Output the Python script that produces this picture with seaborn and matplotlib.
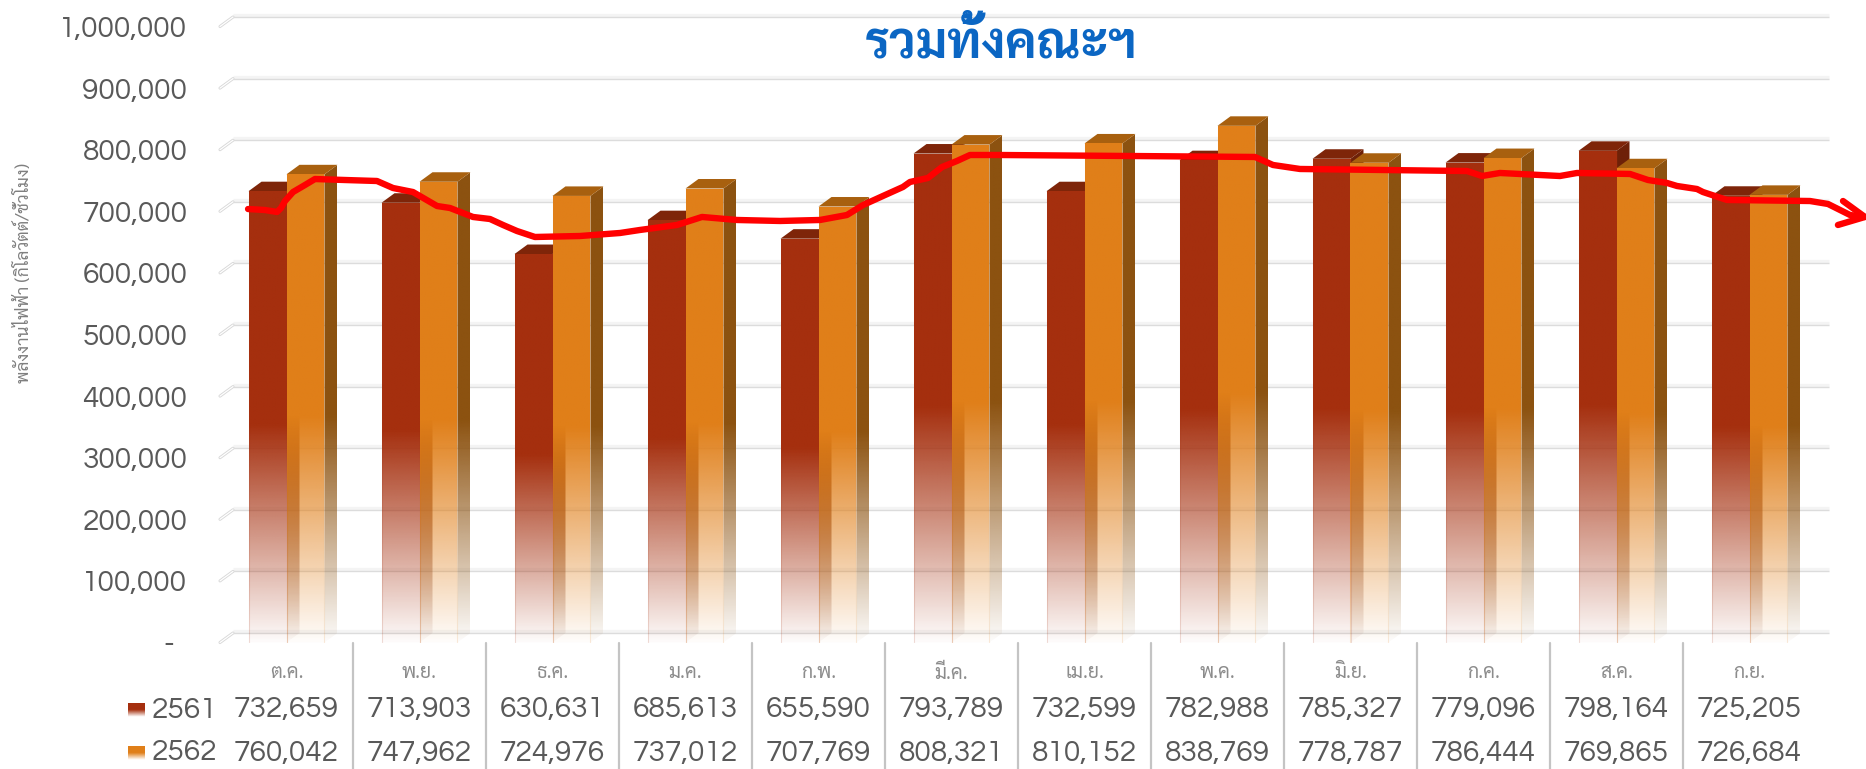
import numpy as np
import pandas as pd
import matplotlib
matplotlib.use("Agg")
from matplotlib import pyplot as plt
from matplotlib import font_manager as fm
from matplotlib.colors import to_rgb, to_rgba
from matplotlib.patches import Polygon
import seaborn as sns

months = ['ต.ค.', 'พ.ย.', 'ธ.ค.', 'ม.ค.', 'ก.พ.', 'มี.ค.', 'เม.ย.', 'พ.ค.', 'มิ.ย.', 'ก.ค.', 'ส.ค.', 'ก.ย.']
values_2561 = [732659, 713903, 630631, 685613, 655590, 793789, 732599, 782988, 785327, 779096, 798164, 725205]
values_2562 = [760042, 747962, 724976, 737012, 707769, 808321, 810152, 838769, 778787, 786444, 769865, 726684]
y_ticks = [0, 100000, 200000, 300000, 400000, 500000, 600000, 700000, 800000, 900000, 1000000]

# hand drawn red line on top of the chart
trend_x = [-0.289, -0.162, -0.071, -0.041, -0.011, 0.049, 0.139, 0.214, 0.440, 0.680, 0.801, 0.951, 1.132, 1.229,
           1.402, 1.530, 1.628, 1.733, 1.868, 2.207, 2.508, 2.658, 2.936, 3.124, 3.387, 3.711, 4.011, 4.214, 4.335,
           4.485, 4.635, 4.688, 4.823, 4.929, 5.041, 5.139, 5.365, 7.282, 7.417, 7.620, 8.876, 8.989, 9.124, 9.575,
           9.703, 10.102, 10.237, 10.380, 10.455, 10.605, 10.650, 10.831, 11.455, 11.590, 11.756, 11.868]
trend_y = [703700, 702100, 698900, 705400, 716700, 731300, 742700, 752400, 750800, 749200, 737800, 731300, 708600, 705400,
           690800, 687500, 677800, 668000, 658300, 659900, 664800, 669700, 677800, 690800, 685900, 684300, 685900, 694000, 710200,
           724900, 739500, 747600, 754100, 771900, 781700, 791400, 791400, 788200, 775200, 768700, 765400, 757300, 762200, 757300,
           762200, 760600, 750800, 746000, 741100, 736200, 731300, 718400, 716700, 711900, 694000, 690800]
arrow_x = [11.703, 11.868, 11.665]
arrow_y = [716700, 690800, 677800]

WIDTH, HEIGHT = 1866, 769
LEFT, RIGHT, TOP, BOTTOM = 220, 1816, 26.5, 642.5

RED, RED_TOP, RED_SIDE = '#A52F0E', '#7E2509', '#6E2108'
ORANGE, ORANGE_TOP, ORANGE_SIDE = '#E07F19', '#A8600F', '#8C5210'
TEXT = '#595959'
NUM_SIZE = 21.5


def pick(*names):
    have = set(f.name for f in fm.fontManager.ttflist)
    for n in names:
        if n in have:
            return n
    return 'DejaVu Sans'


latin_font = pick('Questrial', 'Didact Gothic', 'Lato')
thai_font = pick('Sarabun', 'Noto Sans Thai', 'Kanit', 'Prompt')

sns.set_theme(style="white")
plt.rcParams['font.family'] = [latin_font, 'DejaVu Sans']

fig = plt.figure(figsize=(WIDTH / 100, HEIGHT / 100), dpi=100)
ax = fig.add_axes([LEFT / WIDTH, 1 - BOTTOM / HEIGHT, (RIGHT - LEFT) / WIDTH, (BOTTOM - TOP) / HEIGHT])

df = pd.DataFrame({
    'month': months * 2,
    'year': ['2561'] * 12 + ['2562'] * 12,
    'value': values_2561 + values_2562,
})
sns.barplot(data=df, x='month', y='value', hue='year', order=months, hue_order=['2561', '2562'],
            palette=[RED, ORANGE], width=0.571, gap=0, saturation=1, legend=False, ax=ax, zorder=5)

xlim = (-0.5, 11.5)
ylim = (0, 1000000)
px_x = (xlim[1] - xlim[0]) / (RIGHT - LEFT)
px_y = (ylim[1] - ylim[0]) / (BOTTOM - TOP)
dx = 13 * px_x
dy = 9.5 * px_y

# back wall lines + little side wall
for v in y_ticks:
    ax.plot([xlim[0] + dx, xlim[1] + dx], [v + dy + 2 * px_y] * 2, color='#F4F4F4', lw=2.4, clip_on=False, zorder=1,
            solid_capstyle='butt')
    ax.plot([xlim[0] + dx, xlim[1] + dx], [v + dy] * 2, color='#DCDCDC', lw=1.0, clip_on=False, zorder=1.1,
            solid_capstyle='butt')
    ax.plot([xlim[0], xlim[0] + dx], [v, v + dy], color='#D8D8D8', lw=2.2, clip_on=False, zorder=1)
    ax.plot([xlim[0], xlim[0] + dx], [v, v + dy], color='#FFFFFF', lw=0.9, clip_on=False, zorder=1.1)


def fade(color, height, top):
    # colour goes to almost nothing at the floor, solid from half of the bar up
    rows = 256
    vals = np.linspace(0, top, rows)
    alpha = np.clip(0.02 + vals / (0.49 * height), 0, 1)
    img = np.ones((rows, 2, 4))
    img[:, :, :3] = to_rgb(color)
    img[:, :, 3] = alpha[:, None]
    return img


def gradient_shape(pts, color, height, z):
    pts = np.array(pts)
    top = pts[:, 1].max()
    im = ax.imshow(fade(color, height, top), origin='lower', aspect='auto', interpolation='bilinear',
                   extent=(pts[:, 0].min(), pts[:, 0].max(), 0, top), zorder=z)
    im.set_clip_path(Polygon(pts, closed=True, transform=ax.transData))


colors = [(RED, RED_TOP, RED_SIDE), (ORANGE, ORANGE_TOP, ORANGE_SIDE)]
for s, container in enumerate(ax.containers):
    front, top_c, side_c = colors[s]
    z = 2 + s
    for bar in container:
        x0 = bar.get_x()
        x1 = x0 + bar.get_width()
        h = bar.get_height()
        gradient_shape([(x1, 0), (x1 + dx, dy), (x1 + dx, h + dy), (x1, h)], side_c, h, z)
        ax.add_patch(Polygon([(x0, h), (x0 + dx, h + dy), (x1 + dx, h + dy), (x1, h)], closed=True,
                             facecolor=top_c, edgecolor='none', zorder=z + 0.1))
        gradient_shape([(x0, 0), (x1, 0), (x1, h), (x0, h)], front, h, z + 0.2)
        # keep the seaborn bar as the thin outline
        bar.set_facecolor('none')
        bar.set_edgecolor(to_rgba(front, 0.16))
        bar.set_linewidth(0.8)
        bar.set_zorder(z + 0.3)

sns.lineplot(x=trend_x, y=trend_y, sort=False, estimator=None, color='#FF0000', lw=4.6, ax=ax, zorder=10, clip_on=False)
ax.lines[-1].set_solid_joinstyle('round')
ax.plot(arrow_x, arrow_y, color='#FF0000', lw=4.6, solid_capstyle='round', solid_joinstyle='miter', clip_on=False, zorder=10)

ax.set_xlim(*xlim)
ax.set_ylim(*ylim)
for sp in ax.spines.values():
    sp.set_visible(False)
ax.patch.set_alpha(0)

ax.set_yticks(y_ticks)
ax.set_yticklabels(['-  '] + [f'{v:,}' for v in y_ticks[1:]], fontsize=NUM_SIZE, color=TEXT)
ax.tick_params(axis='y', length=0, pad=23.5)
ax.set_xticks([])
ax.set_xlabel('')
ax.set_ylabel('')

fig.text(24 / WIDTH, 1 - 273 / HEIGHT, 'พลังงานไฟฟ้า (กิโลวัตต์/ชั่วโมง)', rotation=90, ha='center', va='center',
         fontsize=12.4, color='#7F7F7F', family=thai_font)
fig.text(1001 / WIDTH, 1 - 58 / HEIGHT, 'รวมทั้งคณะฯ', ha='center', va='baseline', fontsize=36, color='#0B66C3',
         family=thai_font, fontweight='bold')

# table under the chart
trans = ax.get_xaxis_transform()


def row_y(py):
    return (BOTTOM - py) / (BOTTOM - TOP)


for i in range(12):
    ax.text(i, row_y(673), months[i], transform=trans, ha='center', va='center', fontsize=14, color='#8C8C8C',
            family=thai_font, clip_on=False)
    ax.text(i, row_y(710), f'{values_2561[i]:,}', transform=trans, ha='center', va='center', fontsize=NUM_SIZE,
            color=TEXT, clip_on=False)
    ax.text(i, row_y(753), f'{values_2562[i]:,}', transform=trans, ha='center', va='center', fontsize=NUM_SIZE,
            color=TEXT, clip_on=False)
    if i < 11:
        ax.plot([i + 0.5, i + 0.5], [row_y(643), row_y(769)], transform=trans, color='#C4C4C4', lw=1.6, clip_on=False)

for name, color, py in [('2561', RED, 710), ('2562', ORANGE, 753)]:
    key = fig.add_axes([128 / WIDTH, 1 - (py + 7) / HEIGHT, 17 / WIDTH, 14 / HEIGHT])
    img = np.ones((20, 2, 4))
    img[:, :, :3] = to_rgb(color)
    img[:, :, 3] = np.clip(np.linspace(0, 1.9, 20), 0, 1)[:, None]
    key.imshow(img, origin='lower', aspect='auto', interpolation='bilinear')
    key.axis('off')
    fig.text(152 / WIDTH, 1 - py / HEIGHT, name, ha='left', va='center', fontsize=NUM_SIZE, color=TEXT)

fig.savefig('out.png', dpi=100)
